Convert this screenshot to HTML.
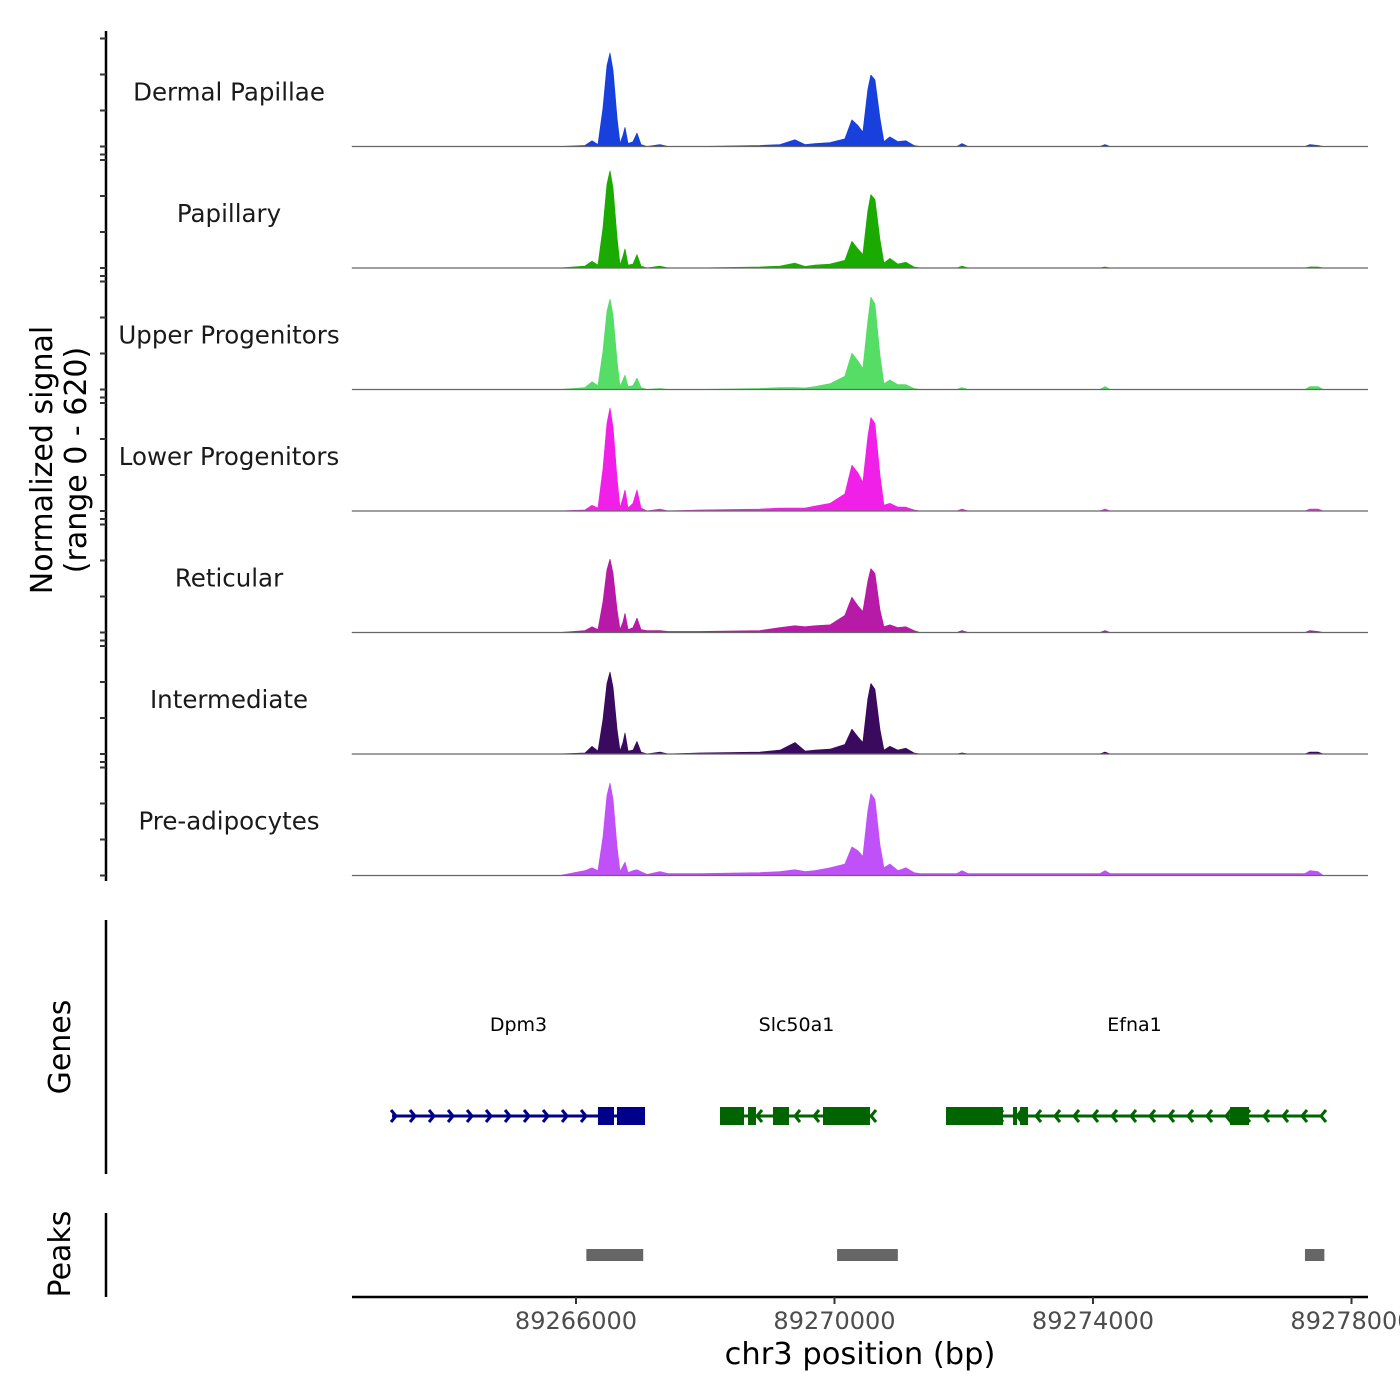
<!DOCTYPE html>
<html><head><meta charset="utf-8">
<style>
html,body{margin:0;padding:0;background:#fff;overflow:hidden;width:1400px;height:1400px}
svg{display:block}
text{font-family:"DejaVu Sans","Liberation Sans",sans-serif}
</style></head>
<body>
<svg id="chart" width="1400" height="1400" viewBox="0 0 1400 1400">
<g id="tracks"></g>
<g id="leftaxis"></g>
<text x="0" y="0" transform="translate(52,460) rotate(-90)" text-anchor="middle" font-size="30" fill="#000">Normalized signal</text>
<text x="0" y="0" transform="translate(86,460) rotate(-90)" text-anchor="middle" font-size="30" fill="#000">(range 0 - 620)</text>
<line x1="106" y1="920" x2="106" y2="1174" stroke="#000" stroke-width="2.5"/>
<text transform="translate(70,1047) rotate(-90)" text-anchor="middle" font-size="30">Genes</text>
<line x1="106" y1="1213" x2="106" y2="1297" stroke="#000" stroke-width="2.5"/>
<text transform="translate(70,1254) rotate(-90)" text-anchor="middle" font-size="30">Peaks</text>
<g id="genes"></g>
<g id="peaks"></g>
<line x1="352" y1="1297" x2="1368" y2="1297" stroke="#000" stroke-width="2.5"/>
<g id="xaxis"></g>
<text x="860" y="1364" text-anchor="middle" font-size="30.5">chr3 position (bp)</text>
</svg>
<script>
const positions=[89262534,89265752,89266139,89266248,89266340,89266418,89266480,89266526,89266572,89266634,89266681,89266727,89266758,89266804,89266882,89266944,89267006,89267099,89267300,89267424,89267919,89268847,89269157,89269389,89269543,89269698,89269930,89270161,89270270,89270362,89270440,89270517,89270563,89270625,89270702,89270764,89270857,89270981,89271105,89271229,89271322,89271895,89271973,89272065,89274108,89274186,89274263,89277280,89277357,89277481,89277559];
const trackNames=["Dermal Papillae","Papillary","Upper Progenitors","Lower Progenitors","Reticular","Intermediate","Pre-adipocytes"];
const dermalPapillae=[0,0,5,30,10,200,425,490,400,150,15,60,100,15,25,70,10,0,10,0,0,5,10,35,10,15,20,40,140,110,75,300,375,350,150,25,50,25,30,5,0,0,15,0,0,10,0,0,10,5,0];
const papillary=[0,0,10,35,15,210,440,510,420,160,15,60,100,15,20,70,10,0,10,0,0,5,10,25,8,15,20,40,140,100,70,300,385,360,150,25,50,20,30,5,0,0,10,0,0,5,0,0,5,5,0];
const upperProgenitors=[0,0,10,40,20,200,410,475,390,150,15,50,75,15,20,60,10,0,5,0,0,5,10,10,8,15,30,70,190,150,110,360,485,450,180,30,50,25,25,5,0,0,10,0,0,15,0,0,15,15,0];
const lowerProgenitors=[0,0,5,30,15,220,460,540,440,170,15,70,110,15,40,110,15,0,10,0,5,10,15,15,15,25,40,90,240,200,150,390,490,460,190,30,40,20,20,5,0,0,10,0,0,10,0,0,10,10,0];
const reticular=[0,0,10,30,15,160,330,385,310,120,15,55,100,15,25,75,15,10,10,5,5,10,25,35,30,35,40,90,185,140,110,270,335,310,120,30,40,25,30,10,0,0,10,0,0,10,0,0,10,5,0];
const intermediate=[0,0,5,40,15,180,370,430,350,130,15,60,110,15,20,65,10,0,10,0,5,10,20,60,15,20,25,50,130,90,60,290,370,340,130,20,40,20,30,5,0,0,5,0,0,10,0,0,10,10,0];
const preAdipocytes=[0,0,25,40,25,200,420,485,400,150,20,50,70,15,25,30,20,5,20,10,10,15,20,30,20,25,40,60,150,130,100,340,430,400,160,40,60,25,40,15,10,10,25,10,10,25,10,10,25,20,0];
const trackColors=["#1740dd","#1aaa00","#55dd66","#f020e8","#b81aa8","#3a0a5e","#c050f8"];
const genes=["Dpm3","Slc50a1","Efna1"];
const geneStart=[89263153,89268228,89271725];
const geneEnd=[89267068,89270596,89277559];
const geneStrand=[1,-1,-1];
const geneExonStart=[[89266340,89266634],[89268228,89268662,89269048,89269822],[89271725,89272762,89272870,89276120]];
const geneExonEnd=[[89266588,89267068],[89268600,89268785,89269296,89270550],[89272607,89272824,89272994,89276414]];
const peakStart=[89266160,89270040,89277280];
const peakEnd=[89267040,89270980,89277580];
const xTicks=[89266000,89270000,89274000,89278000];

const NS="http://www.w3.org/2000/svg";
function x(bp){return 576+(bp-89266000)*258.5/4000;}
const trackH=121.5, base0=146.5;
function y(v,i){return base0+i*trackH - v/620*118;}
function mk(tag,attrs,parent){const e=document.createElementNS(NS,tag);for(const k in attrs)e.setAttribute(k,attrs[k]);parent.appendChild(e);return e;}
const series=[dermalPapillae,papillary,upperProgenitors,lowerProgenitors,reticular,intermediate,preAdipocytes];
const tg=document.getElementById('tracks');
series.forEach((vals,i)=>{
  const b=base0+i*trackH;
  let d='M'+x(positions[0]).toFixed(1)+','+b;
  positions.forEach((p,j)=>{d+=' L'+x(p).toFixed(1)+','+y(vals[j],i).toFixed(1);});
  d+=' L'+x(positions[positions.length-1]).toFixed(1)+','+b+' Z';
  const path=mk('path',{d:d,fill:trackColors[i],stroke:trackColors[i],'stroke-width':0.8,'stroke-linejoin':'round'},tg);
  
  
  const bl=mk('line',{x1:352,x2:1368,y1:b,y2:b,stroke:'#666','stroke-width':1.2},tg);
  
  
  const t=mk('text',{x:229,y:b-46,'text-anchor':'middle','font-size':24.5,fill:'#1a1a1a'},tg);
  t.textContent=trackNames[i];
  
  
});
const la=document.getElementById('leftaxis');
mk('line',{x1:106,x2:106,y1:31,y2:881,stroke:'#000','stroke-width':2.5},la);
for(let i=0;i<7;i++){
  const b=base0+i*trackH;
  [0,36,72,108].forEach(o=>{mk('line',{x1:100,x2:106,y1:b-o,y2:b-o,stroke:'#333','stroke-width':2},la);});
  if(i<6) mk('line',{x1:100,x2:106,y1:b+8,y2:b+8,stroke:'#333','stroke-width':2},la);
}
const gg=document.getElementById('genes');
const gcol=["#00008b","#006400","#006400"];
genes.forEach((g,i)=>{
  const c=gcol[i],yy=1116;
  const ln=mk('line',{x1:x(geneStart[i]),x2:x(geneEnd[i]),y1:yy,y2:yy,stroke:c,'stroke-width':3},gg);
  
  
  const x0=x(geneStart[i]),x1=x(geneEnd[i]);
  const s=geneStrand[i];
  for(let ax=(s>0?x0+4:x1-2);s>0?ax<x1:ax>x0;ax+=s*19){
    mk('path',{d:`M${ax-5*s},${yy-6} L${ax},${yy} L${ax-5*s},${yy+6}`,fill:'none',stroke:c,'stroke-width':3},gg);
  }
  geneExonStart[i].forEach((st,k)=>{
    const r=mk('rect',{x:x(st),y:yy-9,width:x(geneExonEnd[i][k])-x(st),height:18,fill:c},gg);
    
    
  });
  const t=mk('text',{x:(x0+x1)/2,y:1031,'text-anchor':'middle','font-size':19,fill:'#000'},gg);
  t.textContent=g;
  
  
});
const pg=document.getElementById('peaks');
peakStart.forEach((st,i)=>{
  const r=mk('rect',{x:x(st),y:1249,width:x(peakEnd[i])-x(st),height:12,fill:'#666'},pg);
  
  
});
const xa=document.getElementById('xaxis');
xTicks.forEach(v=>{
  mk('line',{x1:x(v),x2:x(v),y1:1297,y2:1304,stroke:'#333','stroke-width':2},xa);
  const t=mk('text',{x:x(v),y:1329,'text-anchor':'middle','font-size':24,fill:'#4d4d4d'},xa);
  t.textContent=v;
  
  
});
</script>
</body></html>
